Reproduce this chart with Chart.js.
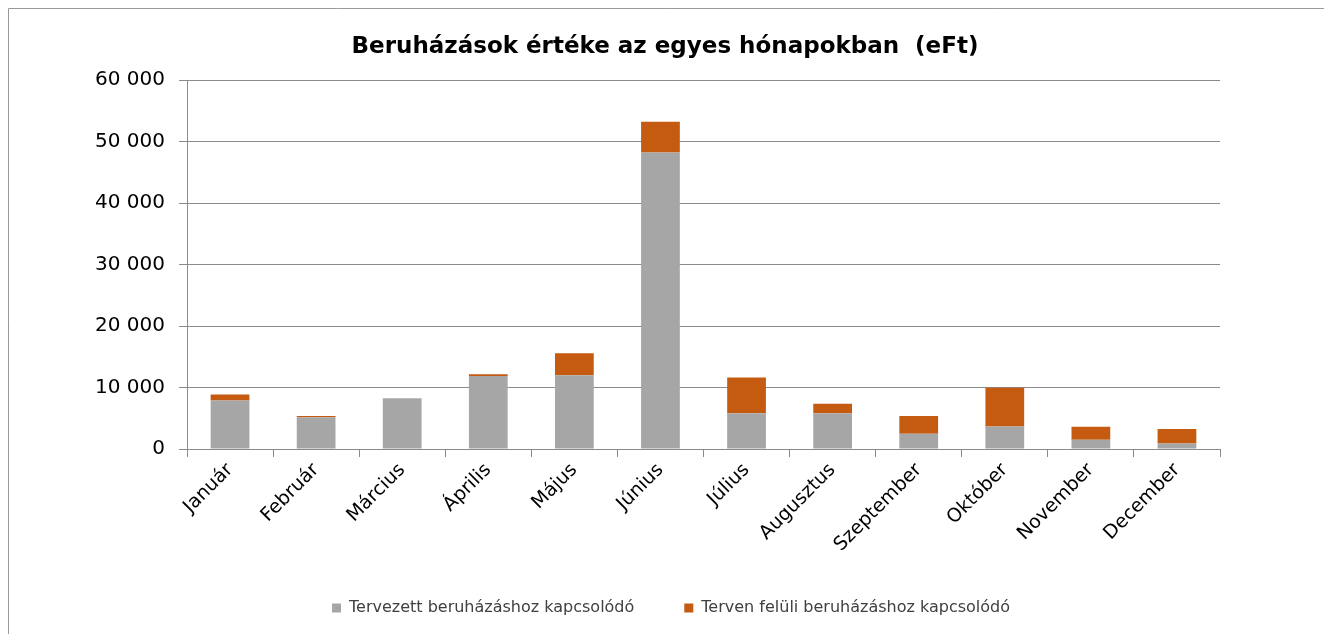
<!DOCTYPE html>
<html>
  <head>
    <title>Beruházások értéke</title>
    <script src="https://cdn.jsdelivr.net/npm/chart.js@4.4.1/dist/chart.umd.min.js"></script>
    <style>
      body { margin: 0; background: #fff; }
      #container { width: 1324px; height: 634px; }
    </style>
  </head>
  <body>
    <div id="container">
      <canvas id="canvas"></canvas>
    </div>
    <script>
      const months = ['Január', 'Február', 'Március', 'Április', 'Május', 'Június',
        'Július', 'Augusztus', 'Szeptember', 'Október', 'November', 'December'];
      // eFt
      const tervezett = [7900, 5150, 8250, 11850, 12000, 48200, 5800, 5800, 2500, 3650, 1500, 900];
      const tervenFeluli = [950, 230, 0, 320, 3550, 5000, 5830, 1540, 2880, 6300, 2130, 2350];
      const seriesNames = ['Tervezett beruházáshoz kapcsolódó', 'Terven felüli beruházáshoz kapcsolódó'];
      const chartTitle = 'Beruházások értéke az egyes hónapokban  (eFt)';

      const FONT = '"DejaVu Sans", sans-serif';
      const GRID = '#8a8a8a';

      // frame lines + title, and nudge the legend to the right like in the original
      const decor = {
        id: 'decor',
        afterLayout(chart) {
          chart.legend.left += 61;
          chart.legend.right += 61;
        },
        beforeDraw(chart) {
          const c = chart.ctx;
          c.save();
          c.fillStyle = '#fff';
          c.fillRect(0, 0, chart.width, chart.height);
          c.strokeStyle = '#9a9a9a';
          c.lineWidth = 1;
          c.beginPath();
          c.moveTo(8.5, chart.height);
          c.lineTo(8.5, 8.5);
          c.lineTo(chart.width, 8.5);
          c.stroke();
          c.restore();
        },
        afterDraw(chart) {
          const c = chart.ctx;
          c.save();
          c.fillStyle = '#000';
          c.font = 'bold 23px ' + FONT;
          c.textAlign = 'center';
          c.textBaseline = 'middle';
          c.fillText(chartTitle, 665, 47);
          c.restore();
        }
      };

      window.onload = () => {
        const ctx = document.getElementById('canvas').getContext('2d');
        new Chart(ctx, {
          type: 'bar',
          data: {
            labels: months,
            datasets: [
              {
                label: seriesNames[0],
                data: tervezett,
                backgroundColor: '#a6a6a6',
                barPercentage: 0.45,
                categoryPercentage: 1,
              },
              {
                label: seriesNames[1],
                data: tervenFeluli,
                backgroundColor: '#c55a11',
                barPercentage: 0.45,
                categoryPercentage: 1,
              },
            ],
          },
          options: {
            responsive: true,
            maintainAspectRatio: false,
            animation: false,
            layout: {
              padding: { top: 80, left: 0, right: 104, bottom: 8 },
            },
            plugins: {
              title: { display: false },
              tooltip: { enabled: false },
              legend: {
                position: 'bottom',
                labels: {
                  boxWidth: 9,
                  boxHeight: 9,
                  padding: 50,
                  color: '#404040',
                  font: { family: FONT, size: 16 },
                },
              },
            },
            scales: {
              x: {
                stacked: true,
                grid: {
                  drawOnChartArea: false,
                  color: GRID,
                  tickLength: 8,
                },
                border: { color: GRID },
                ticks: {
                  minRotation: 45,
                  maxRotation: 45,
                  padding: 2,
                  color: '#000',
                  font: { family: FONT, size: 19 },
                },
                afterFit(scale) { scale.height = 101; },
              },
              y: {
                stacked: true,
                min: 0,
                max: 60000,
                grid: {
                  color: GRID,
                  tickLength: 8,
                },
                border: { color: GRID },
                ticks: {
                  stepSize: 10000,
                  padding: 14,
                  color: '#000',
                  font: { family: FONT, size: 20 },
                  callback: (v) => String(v).replace(/\B(?=(\d{3})+(?!\d))/g, ' '),
                },
                afterFit(scale) { scale.width = 187; },
              },
            },
          },
          plugins: [decor],
        });
      };
    </script>
  </body>
</html>
